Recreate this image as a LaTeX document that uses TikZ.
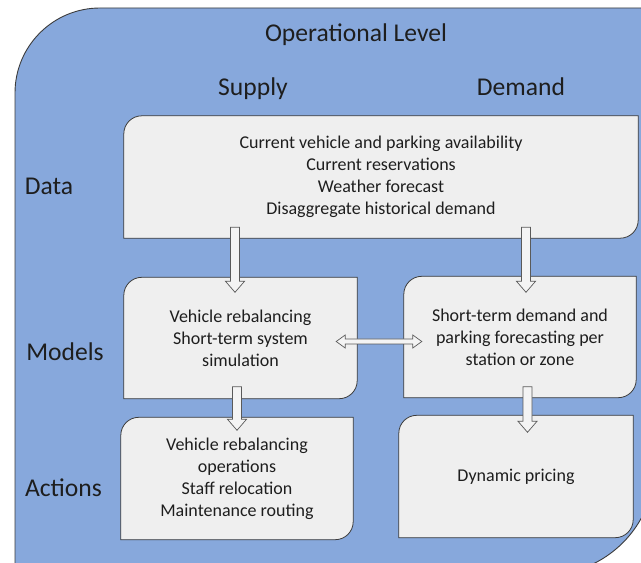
\documentclass[tikz,border=0pt]{standalone}
\usepackage{fontspec}
\setmainfont{Carlito}
\usetikzlibrary{calc,backgrounds}

\definecolor{levelblue}{HTML}{87A8DC}
\definecolor{boxgrey}{HTML}{EFEFEF}
\definecolor{edgegrey}{HTML}{3C3C3C}
\definecolor{arrowedge}{HTML}{5A5A5A}
\definecolor{arrowfill}{HTML}{F4F4F4}
\definecolor{inkblack}{HTML}{1E1E1E}

\tikzset{
  heading/.style={font=\fontsize{25.6}{30}\selectfont, text=inkblack, inner sep=0pt, anchor=base},
  boxtext/.style={font=\fontsize{18}{22}\selectfont, text=inkblack, align=center, inner sep=0pt},
  panel/.style={fill=boxgrey, draw=edgegrey, line width=0.8pt},
  levelpanel/.style={fill=levelblue, draw=edgegrey, line width=0.9pt},
  blockarrow/.style={fill=arrowfill, draw=arrowedge, line width=0.7pt, line join=miter},
}

% box outline with rounded top-left and bottom-right corners
\newcommand\panelshape[1]{%
  \draw[panel] (#1.south west) -- ([yshift=-18pt]#1.north west)
    arc[start angle=180, end angle=90, radius=18pt] -- (#1.north east)
    -- ([yshift=18pt]#1.south east)
    arc[start angle=0, end angle=-90, radius=18pt] -- cycle;}

% downward block arrow: #1 tail, #2 tip
\newcommand\flowdown[2]{%
  \draw[blockarrow] let \p1=#1, \p2=#2 in
    ({\x1-4.5pt},\y1) -- ({\x1-4.5pt},{\y2+11pt}) -- ({\x1-9.5pt},{\y2+11pt})
    -- (\x1,\y2) -- ({\x1+9.5pt},{\y2+11pt}) -- ({\x1+4.5pt},{\y2+11pt})
    -- ({\x1+4.5pt},\y1) -- cycle;}

% horizontal two-headed block arrow between #1 and #2
\newcommand\flowboth[2]{%
  \draw[blockarrow] let \p1=#1, \p2=#2 in
    (\x1,\y1) -- ({\x1+9pt},{\y1+6.5pt}) -- ({\x1+9pt},{\y1+2.5pt})
    -- ({\x2-9pt},{\y1+2.5pt}) -- ({\x2-9pt},{\y1+6.5pt}) -- (\x2,\y1)
    -- ({\x2-9pt},{\y1-6.5pt}) -- ({\x2-9pt},{\y1-2.5pt})
    -- ({\x1+9pt},{\y1-2.5pt}) -- ({\x1+9pt},{\y1-6.5pt}) -- cycle;}

\begin{document}
\begin{tikzpicture}[x=1pt,y=1pt]
\useasboundingbox (0,0) rectangle (641,563);

% headings
\node[heading] (title)   at (356,521) {Operational Level};
\node[heading] (supply)  at (253,467) {Supply};
\node[heading] (demand)  at (521,467) {Demand};
\node[heading] (rdata)   at (49,368)  {Data};
\node[heading] (rmodels) at (65,202.5) {Models};
\node[heading] (ractions) at (63.5,66) {Actions};

% content boxes
\node[boxtext, minimum width=514pt, minimum height=122pt] (data) at (381,386)
  {Current vehicle and parking availability\\Current reservations\\Weather forecast\\Disaggregate historical demand};
\node[boxtext, minimum width=233pt, minimum height=121pt] (mL) at (240.5,225)
  {Vehicle rebalancing\\Short-term system\\simulation};
\node[boxtext, minimum width=232pt, minimum height=121pt] (mR) at (520,226)
  {Short-term demand and\\parking forecasting per\\station or zone};
\node[boxtext, minimum width=232pt, minimum height=122pt] (aL) at (237,84.5)
  {Vehicle rebalancing\\operations\\Staff relocation\\Maintenance routing};
\node[boxtext, minimum width=234pt, minimum height=122pt] (aR) at (516,86.5)
  {Dynamic pricing};

\begin{scope}[on background layer]
  \clip (0,0) rectangle (641,563);
  \fill[white] (0,0) rectangle (641,563);
  % operational level panel: rounded top-left and bottom-right corners
  \draw[levelpanel] (15,-20) -- (15,470) arc[start angle=180, end angle=90, radius=85]
    -- (655,555) -- (655,98)
    arc[start angle=0, end angle=-90, radius=110] -- (545,-20) -- cycle;
  \panelshape{data}
  \panelshape{mL}
  \panelshape{mR}
  \panelshape{aL}
  \panelshape{aR}
\end{scope}

% block arrows
\flowdown{($(mL.north |- data.south)+(-5.5,11)$)}{($(mL.north)+(-5.5,-15)$)}
\flowdown{($(aL.north |- mL.south)+(0,12)$)}{($(aL.north)+(0,-13)$)}
\flowdown{($(mR.north |- data.south)+(6,11)$)}{($(mR.north)+(6,-16)$)}
\flowdown{($(mR.south)+(7.5,11)$)}{($(aR.north -| mR.south)+(7.5,-17)$)}
\flowboth{($(mL.east)+(-21,-3.5)$)}{($(mR.west)+(18,-4.5)$)}
\end{tikzpicture}
\end{document}
